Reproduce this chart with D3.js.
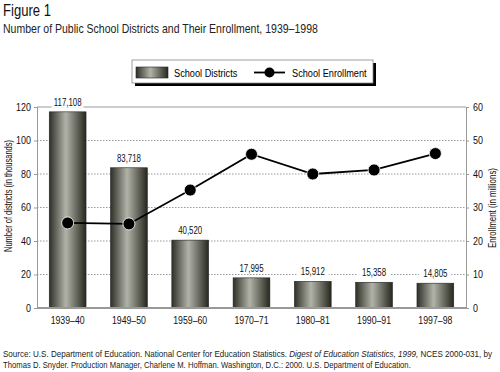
<!DOCTYPE html>
<html>
<head>
<meta charset="utf-8">
<script src="https://cdn.jsdelivr.net/npm/d3@7"></script>
<style>
  body { margin: 0; background: #fff; }
  svg { font-family: "Liberation Sans", Arial, sans-serif; }
</style>
</head>
<body>
<svg id="chart" width="500" height="372"></svg>
<script>
// data
var years = ["1939\u201340", "1949\u201350", "1959\u201360", "1970\u201371", "1980\u201381", "1990\u201391", "1997\u201398"];
var districts = [117108, 83718, 40520, 17995, 15912, 15358, 14805];
var enrollment = [25.4, 25.1, 35.2, 45.9, 40.0, 41.2, 46.1]; // millions
var leftTicks = [0, 20, 40, 60, 80, 100, 120];
var rightTicks = [0, 10, 20, 30, 40, 50, 60];

var svg = d3.select("#chart");
var plotLeft = 37, plotRight = 466, plotTop = 107, plotBottom = 308;

// move x/y into a transform so the text can be squeezed around its anchor
function narrow(sel, k) {
  sel.each(function() {
    var t = d3.select(this);
    var tx = +t.attr("x") || 0, ty = +t.attr("y") || 0;
    t.attr("x", null).attr("y", null)
      .attr("transform", "translate(" + tx + "," + ty + ") scale(" + k + ",1)");
  });
}
// squeeze a text so it ends up w pixels wide
function fitWidth(sel, w) {
  var n = sel.node().getComputedTextLength();
  narrow(sel, w / n);
}

var x = d3.scaleBand().domain(years).range([plotLeft, plotRight]).paddingInner(0.4).paddingOuter(0.2);
var yL = d3.scaleLinear().domain([0, 120]).range([plotBottom, plotTop]);
var yR = d3.scaleLinear().domain([0, 60]).range([plotBottom, plotTop]);

// gradient for the bars
var grad = svg.append("defs").append("linearGradient").attr("id", "barGrad")
  .attr("x1", "0%").attr("x2", "100%").attr("y1", "0%").attr("y2", "0%");
grad.append("stop").attr("offset", "0%").attr("stop-color", "#2e3028");
grad.append("stop").attr("offset", "45%").attr("stop-color", "#b2b3a8");
grad.append("stop").attr("offset", "100%").attr("stop-color", "#26281f");

// title
var t1 = svg.append("text").attr("x", 3).attr("y", 16).style("font-size", "17px").attr("fill", "#111")
  .text("Figure 1");
fitWidth(t1, 48);
var t2 = svg.append("text").attr("x", 3).attr("y", 33).style("font-size", "12.5px").attr("fill", "#222")
  .text("Number of Public School Districts and Their Enrollment, 1939\u20131998");
fitWidth(t2, 315);

// gridlines
svg.append("g").selectAll("line").data(leftTicks.filter(function(d){ return d > 0 && d < 120; }))
  .enter().append("line")
  .attr("x1", plotLeft).attr("x2", plotRight)
  .attr("y1", function(d){ return yL(d); }).attr("y2", function(d){ return yL(d); })
  .attr("stroke", "#999").attr("stroke-width", 1).attr("stroke-dasharray", "1.5,1.5");

// frame top
svg.append("line").attr("x1", plotLeft).attr("x2", plotRight).attr("y1", plotTop).attr("y2", plotTop).attr("stroke", "#999");

// axes
var axL = svg.append("g").attr("transform", "translate(" + plotLeft + ",0)")
  .call(d3.axisLeft(yL).tickValues(leftTicks).tickSize(3).tickPadding(3));
var axR = svg.append("g").attr("transform", "translate(" + plotRight + ",0)")
  .call(d3.axisRight(yR).tickValues(rightTicks).tickSize(3).tickPadding(4));
[axL, axR].forEach(function(ax){
  ax.select(".domain").attr("stroke", "#999");
  ax.selectAll(".tick line").attr("stroke", "#999");
  ax.selectAll("text").style("font-size", "10.5px").attr("fill", "#111").style("font-family", "inherit");
  narrow(ax.selectAll("text"), 0.85);
});

// bars
svg.append("g").selectAll("rect").data(districts).enter().append("rect")
  .attr("x", function(d, i){ return x(years[i]); })
  .attr("width", x.bandwidth())
  .attr("y", function(d){ return yL(d / 1000); })
  .attr("height", function(d){ return plotBottom - yL(d / 1000); })
  .attr("fill", "url(#barGrad)")
  .attr("stroke", "#222").attr("stroke-width", 0.6);

// bar value labels with white back so grid breaks
var fmt = d3.format(",");
var labels = svg.append("g").selectAll("g").data(districts).enter().append("g")
  .attr("transform", function(d, i){
    return "translate(" + (x(years[i]) + x.bandwidth() / 2) + "," + (yL(d / 1000) - 6) + ")";
  });
labels.append("rect").attr("x", -16).attr("y", -9).attr("width", 32).attr("height", 11).attr("fill", "#fff");
var lt = labels.append("text").attr("text-anchor", "middle").style("font-size", "10.5px").attr("fill", "#111")
  .text(function(d){ return fmt(d); });
narrow(lt, 0.75);

// bottom line
svg.append("line").attr("x1", plotLeft).attr("x2", plotRight).attr("y1", plotBottom).attr("y2", plotBottom)
  .attr("stroke", "#999").attr("stroke-width", 2);

// category labels
var cl = svg.append("g").selectAll("text").data(years).enter().append("text")
  .attr("x", function(d){ return x(d) + x.bandwidth() / 2; })
  .attr("y", 324).attr("text-anchor", "middle").style("font-size", "11.5px").attr("fill", "#111")
  .text(function(d){ return d; });
narrow(cl, 0.76);

// enrollment line
var line = d3.line()
  .x(function(d, i){ return x(years[i]) + x.bandwidth() / 2; })
  .y(function(d){ return yR(d); });
svg.append("path").datum(enrollment).attr("d", line)
  .attr("fill", "none").attr("stroke", "#000").attr("stroke-width", 1.8);
svg.append("g").selectAll("circle").data(enrollment).enter().append("circle")
  .attr("cx", function(d, i){ return x(years[i]) + x.bandwidth() / 2; })
  .attr("cy", function(d){ return yR(d); })
  .attr("r", 6).attr("fill", "#000").attr("stroke", "#fff").attr("stroke-width", 0.8);

// axis titles
svg.append("text").attr("transform", "translate(12,196) rotate(-90)")
  .attr("text-anchor", "middle").style("font-size", "10.5px").attr("fill", "#111")
  .attr("textLength", 112).attr("lengthAdjust", "spacingAndGlyphs")
  .text("Number of districts (in thousands)");
svg.append("text").attr("transform", "translate(496,208) rotate(-90)")
  .attr("text-anchor", "middle").style("font-size", "10.5px").attr("fill", "#111")
  .attr("textLength", 80).attr("lengthAdjust", "spacingAndGlyphs")
  .text("Enrollment (in millions)");

// legend
var lg = svg.append("g").attr("transform", "translate(132,60)");
lg.append("rect").attr("x", 3).attr("y", 3).attr("width", 241).attr("height", 23).attr("fill", "#000");
lg.append("rect").attr("x", 0).attr("y", 0).attr("width", 241).attr("height", 23)
  .attr("fill", "#fff").attr("stroke", "#888").attr("stroke-width", 0.8);
lg.append("rect").attr("x", 4).attr("y", 7).attr("width", 32).attr("height", 11)
  .attr("fill", "url(#barGrad)").attr("stroke", "#222").attr("stroke-width", 0.6);
var l1 = lg.append("text").attr("x", 42).attr("y", 16.5).style("font-size", "11.5px").text("School Districts");
lg.append("line").attr("x1", 122).attr("x2", 153).attr("y1", 12.5).attr("y2", 12.5)
  .attr("stroke", "#000").attr("stroke-width", 1.8);
lg.append("circle").attr("cx", 137.5).attr("cy", 12.5).attr("r", 5).attr("fill", "#000");
var l2 = lg.append("text").attr("x", 160).attr("y", 16.5).style("font-size", "11.5px").text("School Enrollment");
narrow(l1, 0.8);
narrow(l2, 0.8);

// source
var src = svg.append("text").attr("x", 3).attr("y", 357).style("font-size", "9.6px").attr("fill", "#222");
src.append("tspan").text("Source: U.S. Department of Education. National Center for Education Statistics. ");
src.append("tspan").style("font-style", "italic").text("Digest of Education Statistics, 1999,");
src.append("tspan").text(" NCES 2000-031, by");
fitWidth(src, 489);
var src2 = svg.append("text").attr("x", 3).attr("y", 368).style("font-size", "9.6px").attr("fill", "#222")
  .text("Thomas D. Snyder. Production Manager, Charlene M. Hoffman. Washington, D.C.: 2000. U.S. Department of Education.");
fitWidth(src2, 408);
</script>
</body>
</html>
